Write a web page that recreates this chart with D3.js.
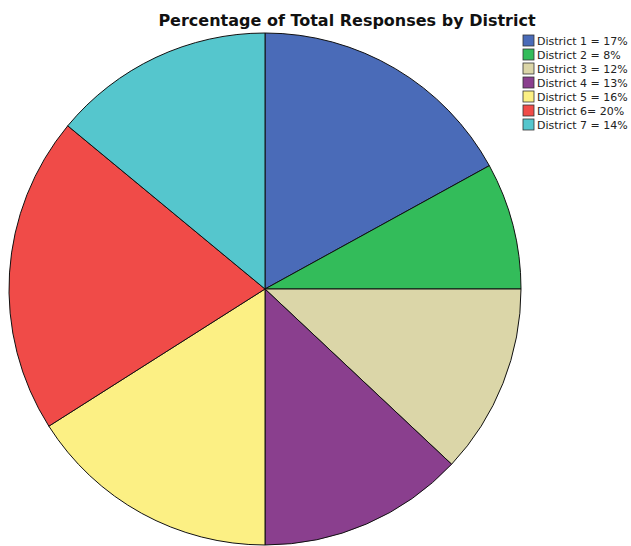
<!DOCTYPE html>
<html>
<head>
<meta charset="utf-8">
<style>
    body { margin: 0; background: #fff; }
    svg { display: block; font-family: 'DejaVu Sans', sans-serif; }
</style>
</head>
<body>
<svg width="631" height="546"></svg>
<script src="https://d3js.org/d3.v7.min.js"></script>
<script>
    let districts = ["District 1", "District 2", "District 3", "District 4", "District 5", "District 6", "District 7"]
    let shares = [17, 8, 12, 13, 16, 20, 14]
    let legendLabels = ["District 1 = 17%", "District 2 = 8%", "District 3 = 12%", "District 4 = 13%",
        "District 5 = 16%", "District 6= 20%", "District 7 = 14%"]
    let colors = ["#4a6bb8", "#33bc5a", "#dbd6a8", "#8a3f8e", "#fcf084", "#f04b48", "#55c6cd"]

    let svg = d3.select("svg")
    let cx = 265, cy = 289, r = 256

    let data = districts.map((d, i) => ({ name: d, value: shares[i], color: colors[i], label: legendLabels[i] }))

    let pie = d3.pie().value(d => d.value).sort(null)
    let arc = d3.arc().innerRadius(0).outerRadius(r)

    svg.append("g")
        .attr("transform", `translate(${cx},${cy})`)
        .selectAll("path")
        .data(pie(data))
        .join("path")
        .attr("d", arc)
        .style("fill", d => d.data.color)
        .style("stroke", "#111")
        .style("stroke-width", 1)

    svg.append("text")
        .attr("x", 347)
        .attr("y", 26)
        .attr("text-anchor", "middle")
        .style("font-size", "16px")
        .style("font-weight", "bold")
        .style("fill", "#111")
        .text("Percentage of Total Responses by District")

    let legend = svg.append("g")
        .selectAll("g")
        .data(data)
        .join("g")
        .attr("transform", (d, i) => `translate(523,${35 + i * 14})`)

    legend.append("rect")
        .attr("width", 11)
        .attr("height", 11)
        .style("fill", d => d.color)
        .style("stroke", "#333")
        .style("stroke-width", 0.8)

    legend.append("text")
        .attr("x", 14)
        .attr("y", 10)
        .style("font-size", "11px")
        .style("fill", "#222")
        .text(d => d.label)
</script>
</body>
</html>
